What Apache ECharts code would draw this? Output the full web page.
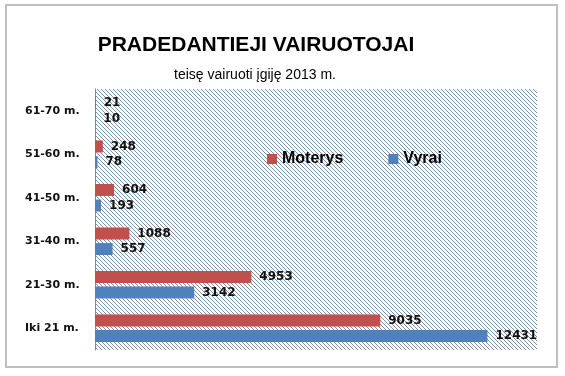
<!DOCTYPE html>
<html>
<head>
<meta charset="utf-8">
<script src="https://cdn.jsdelivr.net/npm/echarts@6/dist/echarts.min.js"></script>
<style>
  html, body { margin: 0; padding: 0; background: #fff; }
  #chart { width: 565px; height: 376px; }
</style>
</head>
<body>
<div id="chart"></div>
<script>
// amžiaus grupės (iš apačios į viršų, kaip category ašyje)
const categories = ['Iki 21 m.', '21-30 m.', '31-40 m.', '41-50 m.', '51-60 m.', '61-70 m.'];
const moterys = [9035, 4953, 1088, 604, 248, 21];
const vyrai = [12431, 3142, 557, 193, 78, 10];

// dryžuotas fonas
const hatch = document.createElement('canvas');
hatch.width = 4;
hatch.height = 4;
const hctx = hatch.getContext('2d');
hctx.fillStyle = '#fff';
hctx.fillRect(0, 0, 4, 4);
hctx.fillStyle = '#7a92a8';
for (let i = 0; i < 4; i++) hctx.fillRect(i, i, 1, 1);

const chart = echarts.init(document.getElementById('chart'));
const catFont = { fontFamily: 'DejaVu Sans', fontWeight: 'bold', fontSize: 11, color: '#111' };
const valFont = { fontFamily: 'DejaVu Sans', fontWeight: 'bold', fontSize: 12, color: '#111' };

const option = {
  backgroundColor: '#fff',
  animation: false,
  title: [{
    text: 'PRADEDANTIEJI VAIRUOTOJAI',
    left: 251,
    top: 30,
    textAlign: 'center',
    textStyle: { fontFamily: 'Liberation Sans', fontWeight: 'bold', fontSize: 21, color: '#000' }
  }, {
    text: 'teisę vairuoti įgiję 2013 m.',
    left: 250,
    top: 63,
    textAlign: 'center',
    textStyle: { fontFamily: 'Liberation Sans', fontWeight: 'normal', fontSize: 14, color: '#000' }
  }],
  graphic: [{
    type: 'rect',
    shape: { x: 6, y: 5, width: 551, height: 362 },
    style: { fill: null, stroke: '#bfbfbf', lineWidth: 2 },
    silent: true
  }],
  legend: {
    left: 262,
    top: 146,
    itemWidth: 10,
    itemHeight: 10,
    itemGap: 45,
    icon: 'rect',
    textStyle: { fontFamily: 'Liberation Sans', fontWeight: 'bold', fontSize: 16, color: '#000' },
    data: ['Moterys', 'Vyrai']
  },
  grid: {
    left: 95,
    right: 28,
    top: 89,
    bottom: 26,
    show: true,
    borderWidth: 0,
    backgroundColor: { image: hatch, repeat: 'repeat' }
  },
  xAxis: {
    type: 'value',
    min: 0,
    max: 14000,
    show: false
  },
  yAxis: {
    type: 'category',
    data: categories,
    axisLine: { lineStyle: { color: '#868686', width: 1 } },
    axisTick: { show: false },
    axisLabel: Object.assign({ align: 'left', margin: 70 }, catFont)
  },
  series: [{
    name: 'Moterys',
    type: 'bar',
    data: moterys,
    barWidth: 12,
    barGap: '30%',
    itemStyle: { color: '#c0504d' },
    label: Object.assign({ show: true, position: 'right', distance: 8 }, valFont)
  }, {
    name: 'Vyrai',
    type: 'bar',
    data: vyrai,
    barWidth: 12,
    itemStyle: { color: '#4f81bd' },
    label: Object.assign({ show: true, position: 'right', distance: 8 }, valFont)
  }]
};

chart.setOption(option);
</script>
</body>
</html>
